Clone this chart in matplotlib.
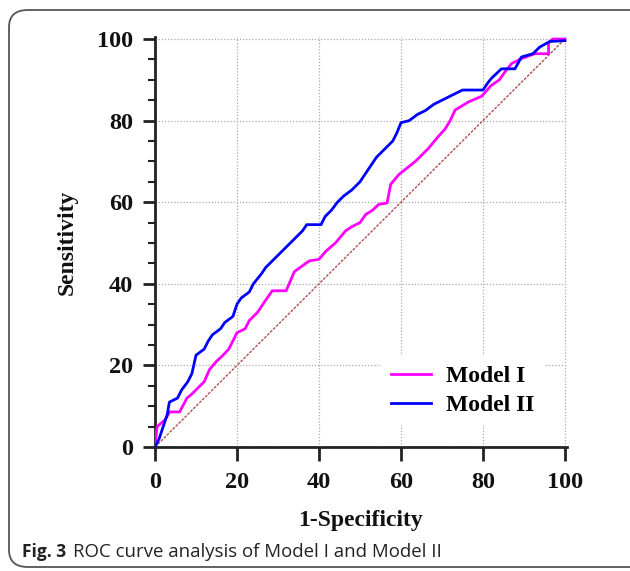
import matplotlib.pyplot as plt
from matplotlib.patches import FancyBboxPatch
from matplotlib.ticker import MultipleLocator

# ROC points (1-Specificity, Sensitivity), in %
model1_fpr = [0, 0.5, 2.4, 3.6, 6, 7.8, 9, 11, 12, 13.3, 15, 16.5, 18, 19, 20, 22, 23, 25,
              27, 28.6, 32, 34, 37.6, 40, 41.7, 44, 46.5, 48, 50, 51.4, 53, 54.6, 56.6,
              57.5, 59.5, 61, 63.5, 65, 66.7, 69, 70.8, 72, 73.2, 76.5, 79.7, 82, 84,
              85.4, 87, 89.4, 92.6, 96, 96, 97, 100]
model1_tpr = [0, 5, 6.6, 8.6, 8.6, 12, 13, 15, 16, 19, 21, 22.4, 24, 26, 28, 29, 31, 33,
              36, 38.3, 38.3, 43, 45.6, 46, 48, 50, 53, 54, 55, 57, 58, 59.5, 59.8,
              64.4, 66.8, 68, 70, 71.5, 73.2, 76, 78, 80, 82.6, 84.6, 86, 88.6, 90,
              92, 94, 95.2, 96.4, 96.4, 99, 100, 100]

model2_fpr = [0, 1, 2, 3, 3.5, 5.5, 6.5, 8, 9, 10, 12, 13, 14, 16, 17, 19, 20, 21, 23, 24,
              26, 27, 29, 31, 33, 35, 36, 37, 40.5, 41.5, 43, 44.5, 46, 48, 50, 52, 54,
              56, 58, 59, 60, 62, 64, 66, 68, 70, 72, 75, 80, 81, 82, 84.5, 87.8, 89.4,
              92.2, 93.8, 96.3, 100]
model2_tpr = [0, 2, 5, 8, 11, 12, 14, 16, 18, 22.5, 24, 26, 27.5, 29, 30.5, 32, 35, 36.5,
              38, 40, 42.5, 44, 46, 48, 50, 52, 53, 54.5, 54.5, 56.5, 58, 60, 61.5, 63,
              65, 68, 71, 73, 75, 77, 79.5, 80, 81.5, 82.5, 84, 85, 86, 87.5, 87.5, 89,
              90.3, 92.7, 92.7, 95.6, 96.4, 98, 99.4, 99.6]

ticks = [0, 20, 40, 60, 80, 100]
serif = "Liberation Serif"

fig = plt.figure(figsize=(6.3, 5.71), dpi=100)

# rounded frame around the figure panel
frame = FancyBboxPatch((9 / 630, 4 / 571), 640 / 630, 557 / 571,
                       boxstyle="round,pad=0,rounding_size=0.03",
                       transform=fig.transFigure, fill=False,
                       edgecolor="#555555", linewidth=1.3, clip_on=False)
fig.patches.append(frame)

ax = fig.add_axes([155 / 630, 1 - 447 / 571, 412 / 630, 410 / 571])

ax.plot([0, 100], [0, 100], color="#b0504c", linewidth=1.0,
        linestyle=(0, (2, 1)), zorder=2)
ax.plot(model1_fpr, model1_tpr, color="#ff00ff", linewidth=2.0, label="Model I", zorder=3)
ax.plot(model2_fpr, model2_tpr, color="#0000ff", linewidth=2.0, label="Model II", zorder=4)

ax.set_xlim(0, 100.5)
ax.set_ylim(0, 100.5)
ax.set_xticks(ticks)
ax.set_yticks(ticks)
ax.yaxis.set_minor_locator(MultipleLocator(5))
ax.grid(True, which="major", linestyle=(0, (1, 1.5)), color="#aaaaaa", linewidth=0.9)

for side in ["top", "right"]:
    ax.spines[side].set_visible(False)
for side in ["left", "bottom"]:
    ax.spines[side].set_linewidth(2.0)
    ax.spines[side].set_color("#222222")

ax.tick_params(axis="y", which="major", direction="out", length=9, width=2.0,
               color="#222222", pad=7)
ax.tick_params(axis="y", which="minor", direction="out", length=5, width=1.5,
               color="#222222")
ax.tick_params(axis="x", which="major", direction="out", length=10, width=2.0,
               color="#222222", pad=8)

for lab in ax.get_xticklabels() + ax.get_yticklabels():
    lab.set_fontfamily(serif)
    lab.set_fontweight("bold")
    lab.set_fontsize(17.5)
    lab.set_color("#111111")

ax.set_xlabel("1-Specificity", fontfamily=serif, fontweight="bold",
              fontsize=17, labelpad=12, color="#111111")
ax.set_ylabel("Sensitivity", fontfamily=serif, fontweight="bold",
              fontsize=17, labelpad=14, color="#111111")

leg = ax.legend(loc="upper left", bbox_to_anchor=(0.549, 0.222), frameon=True,
                framealpha=1, edgecolor="none", handlelength=1.7,
                prop={"family": serif, "weight": "bold", "size": 17},
                labelspacing=0.32, handletextpad=0.65, borderpad=0.4,
                borderaxespad=0)
leg.get_frame().set_linewidth(0)

fig.text(22 / 630, 1 - 557 / 571, "Fig. 3", fontfamily="Open Sans",
         fontweight="bold", fontsize=12.5, color="#222222", va="baseline")
fig.text(73 / 630, 1 - 557 / 571, "ROC curve analysis of Model I and Model II",
         fontfamily="Open Sans", fontsize=13.4, color="#222222", va="baseline")

fig.savefig("out.png", dpi=100)
